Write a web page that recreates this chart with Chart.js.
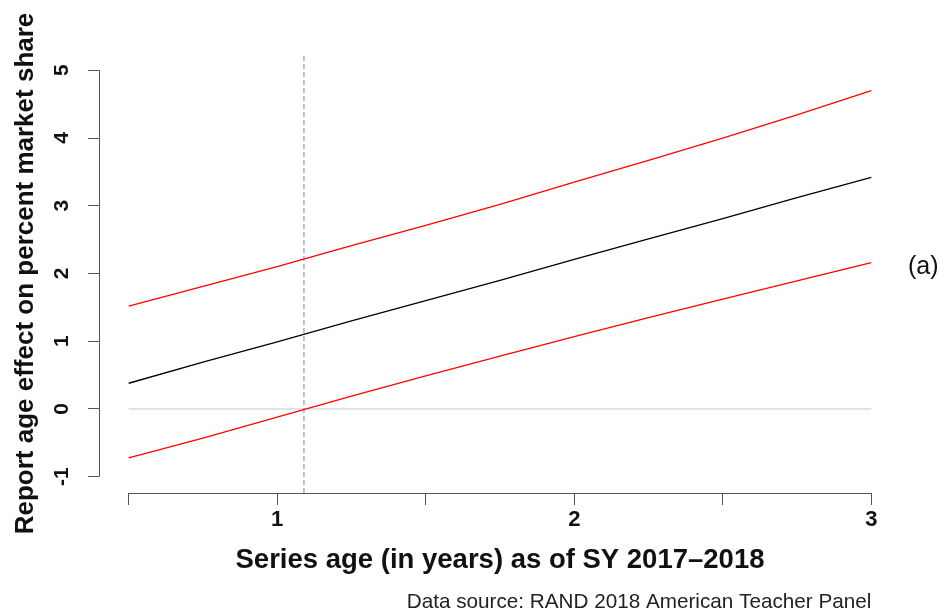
<!DOCTYPE html>
<html>
<head>
<meta charset="utf-8">
<title>Report age effect on percent market share</title>
<script src="https://cdn.jsdelivr.net/npm/chart.js@4/dist/chart.umd.min.js"></script>
<style>
  html, body { margin: 0; padding: 0; background: #ffffff; }
  canvas { display: block; }
</style>
</head>
<body>
<canvas id="chart" width="951" height="614"></canvas>
<script>
// Series age (years) at which the fitted effect and its band are evaluated
const seriesAge  = [0.5, 0.75, 1, 1.25, 1.5, 1.75, 2, 2.25, 2.5, 2.75, 3];
// Fitted report-age effect on percent market share
const effectFit  = [0.38, 0.69, 0.99, 1.30, 1.60, 1.90, 2.21, 2.51, 2.81, 3.12, 3.42];
// Upper and lower confidence band
const upperBand  = [1.52, 1.81, 2.10, 2.41, 2.71, 3.02, 3.35, 3.67, 4.00, 4.34, 4.70];
const lowerBand  = [-0.72, -0.43, -0.12, 0.19, 0.49, 0.78, 1.07, 1.35, 1.62, 1.89, 2.16];
// Age where the lower band crosses zero
const zeroCrossAge = [1.09];
// Zero reference line endpoints
const zeroLineAge = [0.5, 3];
const zeroLineValue = [0, 0];

// Axis ticks and labels
const xTicks = [0.5, 1, 1.5, 2, 2.5, 3];
const xTickLabels = ['', '1', '', '2', '', '3'];
const yTicks = [-1, 0, 1, 2, 3, 4, 5];
const yTickLabels = ['-1', '0', '1', '2', '3', '4', '5'];
const xRange = [0.4, 3.1];
const yRange = [-1.24, 5.24];

const xTitle = 'Series age (in years) as of SY 2017\u20132018';
const yTitle = 'Report age effect on percent market share';
const panelTag = '(a)';
const sourceNote = 'Data source: RAND 2018 American Teacher Panel';

const toPoints = (xs, ys) => xs.map((x, i) => ({ x: x, y: ys[i] }));

// Detached R-style axis lines spanning first to last tick, plus side texts
const axisAndNotes = {
  id: 'axisAndNotes',
  afterDraw(chart) {
    const { ctx, chartArea, scales } = chart;
    const xs = scales.x, ys = scales.y;
    ctx.save();
    ctx.strokeStyle = '#555555';
    ctx.lineWidth = 1;
    ctx.beginPath();
    const yb = Math.round(chartArea.bottom) + 0.5;
    ctx.moveTo(xs.getPixelForValue(xTicks[0]), yb);
    ctx.lineTo(xs.getPixelForValue(xTicks[xTicks.length - 1]), yb);
    const xl = Math.round(chartArea.left) + 0.5;
    ctx.moveTo(xl, ys.getPixelForValue(yTicks[0]));
    ctx.lineTo(xl, ys.getPixelForValue(yTicks[yTicks.length - 1]));
    ctx.stroke();

    ctx.fillStyle = '#111111';
    ctx.font = '25px "Liberation Sans", Arial, sans-serif';
    ctx.textAlign = 'left';
    ctx.textBaseline = 'middle';
    ctx.fillText(panelTag, chartArea.right + 7, ys.getPixelForValue(2.1));

    ctx.font = '20.7px "Liberation Sans Narrow", "Liberation Sans", Arial, sans-serif';
    ctx.textAlign = 'right';
    ctx.textBaseline = 'alphabetic';
    ctx.fillStyle = '#222222';
    ctx.fillText(sourceNote, xs.getPixelForValue(3), 608);
    ctx.restore();
  }
};

new Chart(document.getElementById('chart'), {
  type: 'line',
  data: {
    datasets: [
      {
        label: 'Zero',
        data: toPoints(zeroLineAge, zeroLineValue),
        borderColor: '#c8c8c8',
        borderWidth: 1,
        pointRadius: 0,
        order: 5
      },
      {
        label: 'Zero crossing',
        data: toPoints([zeroCrossAge[0], zeroCrossAge[0]], [yRange[0], yRange[1]]),
        borderColor: '#7a7ad8',
        borderWidth: 1,
        borderDash: [5, 3],
        pointRadius: 0,
        order: 4
      },
      {
        label: 'Upper band',
        data: toPoints(seriesAge, upperBand),
        borderColor: '#ff0000',
        borderWidth: 1.3,
        pointRadius: 0,
        order: 2
      },
      {
        label: 'Lower band',
        data: toPoints(seriesAge, lowerBand),
        borderColor: '#ff0000',
        borderWidth: 1.3,
        pointRadius: 0,
        order: 2
      },
      {
        label: 'Fitted effect',
        data: toPoints(seriesAge, effectFit),
        borderColor: '#000000',
        borderWidth: 1.3,
        pointRadius: 0,
        order: 1
      }
    ]
  },
  options: {
    responsive: false,
    animation: false,
    devicePixelRatio: 1,
    layout: { padding: { top: 54, right: 50, left: 0, bottom: 0 } },
    plugins: {
      legend: { display: false },
      tooltip: { enabled: false }
    },
    elements: { line: { tension: 0, fill: false } },
    scales: {
      x: {
        type: 'linear',
        min: xRange[0],
        max: xRange[1],
        afterBuildTicks: s => { s.ticks = xTicks.map(v => ({ value: v })); },
        afterFit: s => { s.height = 121; },
        border: { display: false },
        grid: {
          display: true,
          drawOnChartArea: false,
          drawTicks: true,
          tickLength: 12,
          color: '#555555',
          lineWidth: 1
        },
        ticks: {
          autoSkip: false,
          maxRotation: 0,
          minRotation: 0,
          padding: 2,
          color: '#111111',
          font: { family: '"Liberation Sans", Arial, sans-serif', size: 22, weight: 'bold' },
          callback: (v, i) => xTickLabels[i]
        },
        title: {
          display: true,
          text: xTitle,
          color: '#111111',
          font: { family: '"Liberation Sans", Arial, sans-serif', size: 27.5, weight: 'bold' },
          padding: { top: 0, bottom: 37 }
        }
      },
      y: {
        type: 'linear',
        min: yRange[0],
        max: yRange[1],
        afterBuildTicks: s => { s.ticks = yTicks.map(v => ({ value: v })); },
        afterFit: s => { s.width = 99; },
        border: { display: false },
        grid: {
          display: true,
          drawOnChartArea: false,
          drawTicks: true,
          tickLength: 11,
          color: '#555555',
          lineWidth: 1
        },
        ticks: {
          autoSkip: false,
          minRotation: 90,
          maxRotation: 90,
          crossAlign: 'center',
          padding: 16,
          color: '#111111',
          font: { family: '"Liberation Sans", Arial, sans-serif', size: 21, weight: 'bold' },
          callback: (v, i) => yTickLabels[i]
        },
        title: {
          display: true,
          text: yTitle,
          color: '#111111',
          font: { family: '"Liberation Sans", Arial, sans-serif', size: 26, weight: 'bold' },
          padding: { top: 10, bottom: 0 }
        }
      }
    }
  },
  plugins: [axisAndNotes]
});
</script>
</body>
</html>
